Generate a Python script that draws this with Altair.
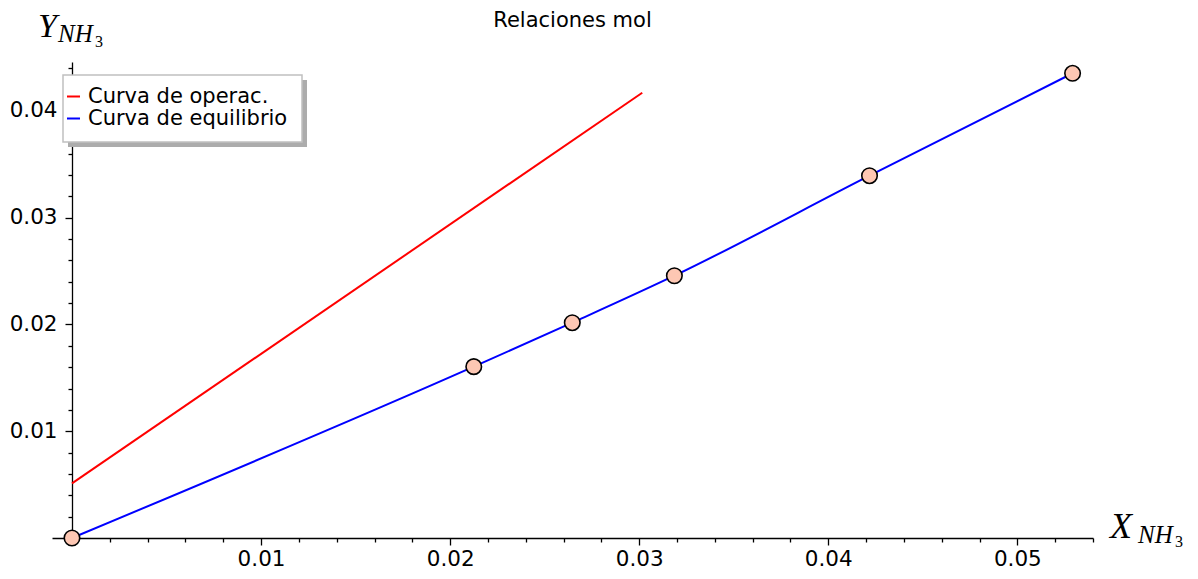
import altair as alt
import pandas as pd

# --- data ---
series = ["Curva de operac.", "Curva de equilibrio"]
op_x = [0.0, 0.03016]
op_y = [0.00512, 0.04171]
eq_x = [0.0, 0.02125, 0.02646, 0.03186, 0.04218, 0.05292]
eq_y = [0.0, 0.01605, 0.02017, 0.02457, 0.03394, 0.04353]
x_ticks = [round(0.002 * i, 3) for i in range(1, 28)]
y_ticks = [round(0.002 * i, 3) for i in range(1, 23)]

op_df = pd.DataFrame({"x": op_x, "y": op_y, "serie": series[0]})
eq_df = pd.DataFrame({"x": eq_x, "y": eq_y, "serie": series[1]})
one = pd.DataFrame({"k": [0]})

major = "abs(datum.value*100 - round(datum.value*100)) < 1e-6"
lab = f"{major} ? format(datum.value, '.2f') : ''"

xs = alt.Scale(domain=[-0.001057, 0.054], nice=False, zero=False)
ys = alt.Scale(domain=[0, 0.04459], nice=False, zero=False)

xaxis = alt.Axis(values=x_ticks, labelExpr=lab, title=None, grid=False,
                 labelOverlap=False, labelFlush=False, labelBound=False,
                 tickSize={"condition": {"test": major, "value": 7}, "value": 4},
                 labelPadding=3)
yaxis = alt.Axis(values=y_ticks, labelExpr=lab, title=None, grid=False,
                 labelOverlap=False, labelFlush=False, labelBound=False,
                 tickSize={"condition": {"test": major, "value": 7}, "value": 4},
                 labelPadding=8, offset=-20)

color = alt.Color(
    "serie:N",
    scale=alt.Scale(domain=series, range=["#ff0000", "#0000ff"]),
    legend=alt.Legend(title=None, orient="none", legendX=11, legendY=24,
                      padding=0, symbolType="stroke", symbolSize=169,
                      symbolStrokeWidth=2, labelFontSize=21,
                      labelFont="DejaVu Sans", labelColor="black",
                      labelOffset=4, rowPadding=0, labelLimit=400),
)

shadow = alt.Chart(one).mark_rect(color="#acacac").encode(
    x=alt.value(16), x2=alt.value(255), y=alt.value(18), y2=alt.value(85))
box = alt.Chart(one).mark_rect(fill="white", stroke="#c0c0c0", strokeWidth=1.5).encode(
    x=alt.value(11), x2=alt.value(250), y=alt.value(13), y2=alt.value(80))

op_line = alt.Chart(op_df).mark_line(strokeWidth=2).encode(
    x=alt.X("x:Q", scale=xs, axis=xaxis),
    y=alt.Y("y:Q", scale=ys, axis=yaxis),
    color=color,
)
eq_line = alt.Chart(eq_df).mark_line(strokeWidth=2, interpolate="monotone").encode(
    x=alt.X("x:Q", scale=xs, axis=xaxis),
    y=alt.Y("y:Q", scale=ys, axis=yaxis),
    color=color,
)
pts = alt.Chart(eq_df).mark_point(filled=True, fill="#fdc7b3", stroke="black",
                                  strokeWidth=1.6, size=240, opacity=1).encode(
    x=alt.X("x:Q", scale=xs, axis=xaxis),
    y=alt.Y("y:Q", scale=ys, axis=yaxis),
)

def txt(s, x, y, size, style="italic", font="Liberation Serif", align="left"):
    return alt.Chart(one).mark_text(text=s, align=align, baseline="alphabetic",
                                    font=font, fontSize=size, fontStyle=style,
                                    color="black").encode(x=alt.value(x), y=alt.value(y))

labels = [
    txt("Relaciones mol", 520.5, -35, 21, "normal", "DejaVu Sans", "center"),
    txt("X", 1058, 476, 36),
    txt("NH", 1086, 481, 25),
    txt("3", 1123, 485, 16, "normal"),
    txt("Y", -14, -25, 34),
    txt("NH", 6, -20, 25),
    txt("3", 43, -15, 16, "normal"),
]

chart = alt.layer(shadow, box, op_line, eq_line, pts, *labels).properties(
    width=1041, height=476,
    autosize=alt.AutoSizeParams(type="none"),
    padding={"left": 44, "top": 54, "right": 97, "bottom": 35},
).configure_view(stroke=None).configure_axis(
    domainColor="black", tickColor="black", labelColor="black",
    domainWidth=1.3, tickWidth=1.3, labelFont="DejaVu Sans", labelFontSize=21.5,
)

chart.save("out.html", embed_options={"renderer": "svg", "actions": False})
